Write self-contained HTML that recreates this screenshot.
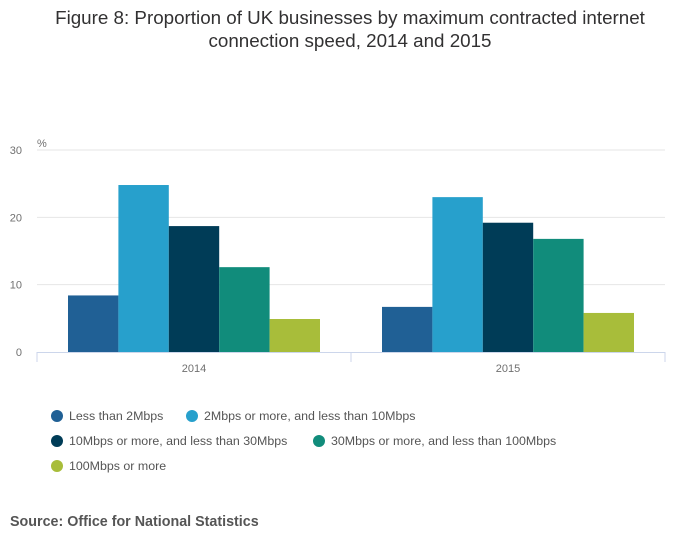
<!DOCTYPE html>
<html><head><meta charset="utf-8"><style>
body{margin:0;background:#fff;font-family:"Liberation Sans",sans-serif;}
#wrap{position:relative;width:700px;height:549px;overflow:hidden;}
</style></head><body>
<div id="wrap">
<svg id="chart" width="700" height="549"></svg>
</div>
<script>
const categories=["2014","2015"];
const seriesNames=["Less than 2Mbps","2Mbps or more, and less than 10Mbps","10Mbps or more, and less than 30Mbps","30Mbps or more, and less than 100Mbps","100Mbps or more"];
const s1=[8.4,6.7];
const s2=[24.8,23.0];
const s3=[18.7,19.2];
const s4=[12.6,16.8];
const s5=[4.9,5.8];
const yTicks=[0,10,20,30];
const colors=["#206095","#27a0cc","#003c57","#118c7b","#a8bd3a"];
const series=[s1,s2,s3,s4,s5];
const NS="http://www.w3.org/2000/svg";
const svg=document.getElementById('chart');
function mk(t,a,txt){const e=document.createElementNS(NS,t);for(const k in a)e.setAttribute(k,a[k]);if(txt!=null)e.textContent=txt;svg.appendChild(e);return e;}
const x0=37,x1=665,y0=352,yTop=150,yMax=30;
const y=v=>y0-(v/yMax)*(y0-yTop);
const bw=(x1-x0)/categories.length;
const barW=50.4;
let t=mk('text',{x:350,y:24,'text-anchor':'middle','font-size':18.8,fill:'#323132'},'Figure 8: Proportion of UK businesses by maximum contracted internet');

t=mk('text',{x:350,y:47,'text-anchor':'middle','font-size':18.8,fill:'#323132'},'connection speed, 2014 and 2015');

t=mk('text',{x:37,y:147,'font-size':11,fill:'#707070'},'%');

yTicks.forEach(v=>{
 if(v>0){const g=mk('line',{x1:x0,x2:x1,y1:y(v),y2:y(v),stroke:'#e6e6e6'});}
 const l=mk('text',{x:22,y:y(v)+4,'text-anchor':'end','font-size':11,fill:'#707070'},v);
 
});
categories.forEach((c,i)=>{
 const cx=x0+bw*(i+0.5);
 const start=cx-barW*series.length/2;
 series.forEach((s,j)=>{
  const r=mk('rect',{x:start+j*barW,y:y(s[i]),width:barW,height:y0-y(s[i]),fill:colors[j]});
  
  
 });
 const l=mk('text',{x:cx,y:372,'text-anchor':'middle','font-size':11,fill:'#707070'},c);
 
});
let ax=mk('line',{x1:x0,x2:x1,y1:y0+0.5,y2:y0+0.5,stroke:'#ccd6eb'});

[x0,(x0+x1)/2,x1].forEach(xx=>{const tk=mk('line',{x1:xx,x2:xx,y1:y0,y2:y0+10,stroke:'#ccd6eb'});});
const legPos=[[57,420],[192,420],[57,445],[319,445],[57,470]];
seriesNames.forEach((n,j)=>{
 const c=mk('circle',{cx:legPos[j][0],cy:legPos[j][1]-4,r:6,fill:colors[j]});
 
 const l=mk('text',{x:legPos[j][0]+12,y:legPos[j][1],'font-size':12.4,fill:'#555'},n);
 
});
t=mk('text',{x:10,y:526,'font-size':14.3,'font-weight':'bold',fill:'#555'},'Source: Office for National Statistics');

</script>
</body></html>
